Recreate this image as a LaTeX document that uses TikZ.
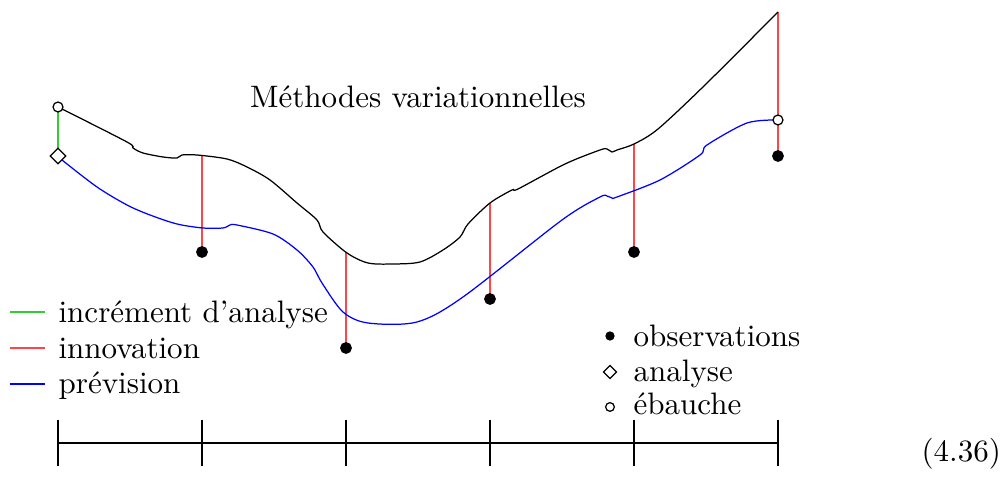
\documentclass[tikz,border=0pt]{standalone}
\usetikzlibrary{shapes.geometric}
\definecolor{innovred}{RGB}{255,70,70}
\definecolor{incrgreen}{RGB}{50,205,50}
\begin{document}
\begin{tikzpicture}[x=0.3223pt,y=-0.3223pt,
  obs/.style={circle,fill=black,draw=black,inner sep=0pt,minimum size=3.4pt},
  ebx/.style={circle,fill=white,draw=black,inner sep=0pt,minimum size=3.2pt},
  anx/.style={diamond,fill=white,draw=black,inner sep=0pt,minimum size=5.2pt},
  lobs/.style={circle,fill=black,inner sep=0pt,minimum size=3.0pt},
  lebx/.style={circle,fill=white,draw=black,inner sep=0pt,minimum size=2.8pt},
  lanx/.style={diamond,fill=white,draw=black,inner sep=0pt,minimum size=4.4pt},
  txt/.style={anchor=base west,inner sep=0pt},
  innov/.style={innovred},
  incr/.style={incrgreen},
  prev/.style={blue},
  anal/.style={black}]
\useasboundingbox (0,0) rectangle (1003,479);

% observation, ebauche, analyse positions
\coordinate (o1) at (202,252);
\coordinate (o2) at (346,348);
\coordinate (o3) at (490,299);
\coordinate (o4) at (634,252);
\coordinate (o5) at (778,156);
\coordinate (e1) at (58,107);
\coordinate (e2) at (778,120);
\coordinate (d1) at (58,156);
% points on the analysed curve
\coordinate (a1) at (202,156);
\coordinate (a2) at (346,252);
\coordinate (a3) at (490,203);
\coordinate (a4) at (634,144);
\coordinate (a5) at (778,12);

% innovations
\foreach \i in {1,...,5} \draw[innov] (a\i) -- (o\i);
% increment
\draw[incr] (e1) -- (d1);

% analysed state (black)
\draw[anal] plot[smooth,tension=0.5] coordinates {
 (58,107) (127,142) (133,148) (143,153) (163,157) (177,158) (182,155)
 (197,155) (227,159) (247,167) (270,180) (297,203) (317,220) (323,232)
 (347,253) (368,263) (393,264) (420,262) (443,250) (460,237)
 (468,224) (490,203) (512,190) (518,189) (565,164)
 (600,150) (607,149) (612,152) (617,150) (634,144) (658,129)
 (705,85) (778,12)};

% forecast (blue)
\draw[prev] plot[smooth,tension=0.5] coordinates {
 (58,156) (62,160) (97,187) (127,205) (150,215) (177,224) (203,228)
 (223,228) (230,225) (237,225) (273,234) (297,250) (313,267) (322,283)
 (343,312) (368,323) (417,322) (463,297) (562,220)
 (600,197) (607,196) (612,198) (617,197) (660,180) (700,155)
 (707,145) (747,123) (778,120)};

% markers
\foreach \i in {1,...,5} \node[obs] (O\i) at (o\i) {};
\node[ebx] (E1) at (e1) {};
\node[ebx] (E2) at (e2) {};
\node[anx] (D1) at (d1) {};

% title
\node[anchor=base,inner sep=0pt] (title) at (418,108) {Méthodes variationnelles};

% left legend
\coordinate (lg1a) at (10,312); \coordinate (lg1b) at (45,312);
\coordinate (lg2a) at (10,348); \coordinate (lg2b) at (45,348);
\coordinate (lg3a) at (10,384); \coordinate (lg3b) at (45,384);
\draw[incr] (lg1a) -- (lg1b);
\draw[innov] (lg2a) -- (lg2b);
\draw[prev] (lg3a) -- (lg3b);
\node[txt] (l1) at (58,323) {incrément d'analyse};
\node[txt] (l2) at (58,359) {innovation};
\node[txt] (l3) at (58,394) {prévision};

% right legend
\node[lobs] (m1) at (610,336) {};
\node[lanx] (m2) at (610,372) {};
\node[lebx] (m3) at (610,407) {};
\node[txt] (r1) at (633,347) {observations};
\node[txt] (r2) at (633,382) {analyse};
\node[txt] (r3) at (633,415) {ébauche};

% time axis
\foreach \k/\x in {0/58,1/202,2/346,3/490,4/634,5/778} {
  \coordinate (t\k) at (\x,443);
  \coordinate (tu\k) at (\x,420);
  \coordinate (td\k) at (\x,466);
  \draw (tu\k) -- (td\k);
}
\draw (t0) -- (t5);

% equation number
\node[txt] (eq) at (921,462) {(4.36)};
\end{tikzpicture}
\end{document}
